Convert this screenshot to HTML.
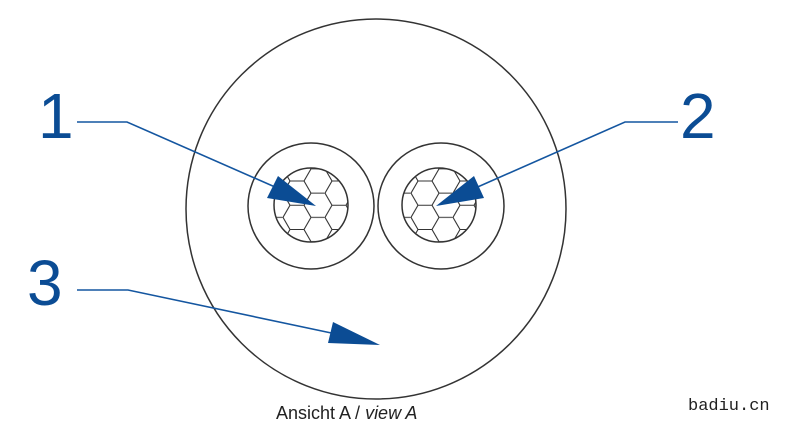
<!DOCTYPE html>
<html><head><meta charset="utf-8"><style>
html,body{margin:0;padding:0;background:#fff;}
svg{display:block;}
</style></head><body>
<svg width="800" height="441" viewBox="0 0 800 441" xmlns="http://www.w3.org/2000/svg">
<defs>
<pattern id="hex" width="42" height="24.25" patternUnits="userSpaceOnUse" x="283" y="181">
<path d="M0,12.12 L7,0 L21,0 L28,12.12 L21,24.25 L7,24.25 Z M28,12.12 L42,12.12" fill="none" stroke="#333" stroke-width="1.1"/>
</pattern>
<pattern id="hex2" width="42" height="24.25" patternUnits="userSpaceOnUse" x="411" y="181">
<path d="M0,12.12 L7,0 L21,0 L28,12.12 L21,24.25 L7,24.25 Z M28,12.12 L42,12.12" fill="none" stroke="#333" stroke-width="1.1"/>
</pattern>
<clipPath id="c1"><circle cx="311" cy="205" r="37"/></clipPath>
<clipPath id="c2"><circle cx="439" cy="205" r="37"/></clipPath>
</defs>
<circle cx="376" cy="209" r="190" fill="none" stroke="#333" stroke-width="1.5"/>
<circle cx="311" cy="206" r="63" fill="none" stroke="#333" stroke-width="1.5"/>
<circle cx="441" cy="206" r="63" fill="none" stroke="#333" stroke-width="1.5"/>
<g clip-path="url(#c1)"><rect x="270" y="165" width="90" height="90" fill="url(#hex)"/></g>
<g clip-path="url(#c2)"><rect x="398" y="165" width="90" height="90" fill="url(#hex2)"/></g>
<circle cx="311" cy="205" r="37" fill="none" stroke="#333" stroke-width="1.5"/>
<circle cx="439" cy="205" r="37" fill="none" stroke="#333" stroke-width="1.5"/>
<g stroke="#1456a0" stroke-width="1.6" fill="none">
<polyline points="77,122 127,122 300,198"/>
<polyline points="678,122 625,122 455,197"/>
<polyline points="77,290 128,290 355,338"/>
</g>
<g fill="#0b4c94">
<polygon points="316,206 267,198 278,176"/>
<polygon points="436,206 474,176 484,198"/>
<polygon points="380,345 328,343 333,322"/>
</g>
<g font-family="Liberation Sans, sans-serif" fill="#0b4c94" font-size="64">
<text x="38" y="138">1</text>
<text x="680" y="138">2</text>
<text x="27" y="305">3</text>
</g>
<text x="276" y="419" font-family="Liberation Sans, sans-serif" font-size="18" fill="#222">Ansicht A / <tspan font-style="italic">view A</tspan></text>
<text x="688" y="410" font-family="Liberation Mono, monospace" font-size="17" fill="#222">badiu.cn</text>
</svg>
</body></html>
